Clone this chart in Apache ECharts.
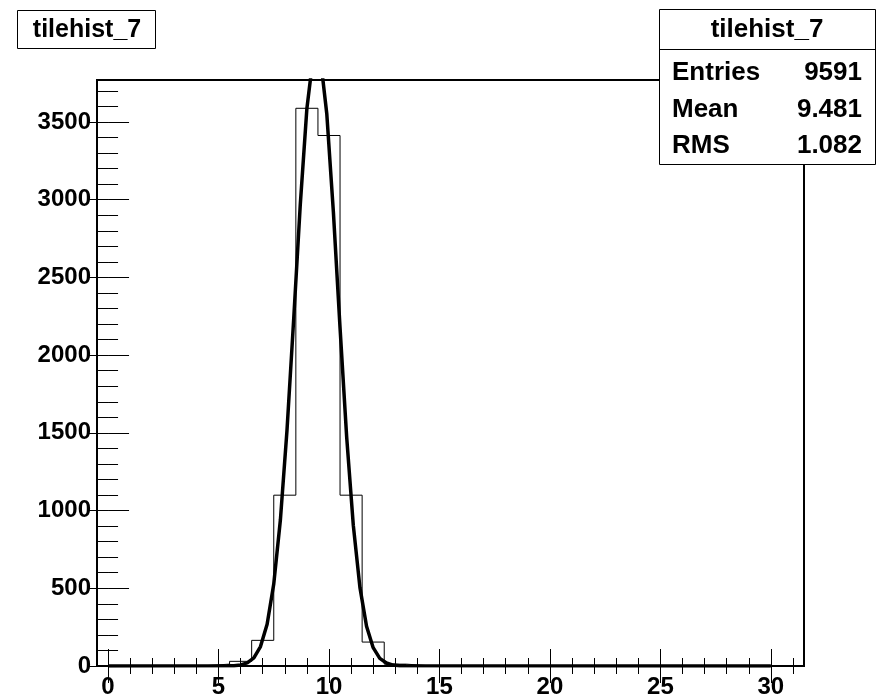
<!DOCTYPE html>
<html>
<head>
<meta charset="utf-8">
<script src="https://cdn.jsdelivr.net/npm/echarts@6/dist/echarts.min.js"></script>
<style>
html,body{margin:0;padding:0;background:#fff;}
#c{width:876px;height:694px;}
</style>
</head>
<body>
<div id="c"></div>
<script>
// ---- data ----
var binCenters = [0,1,2,3,4,5,6,7,8,9,10,11,12,13,14,15,16,17,18,19,20,21,22,23,24,25,26,27,28,29,30,31];
var binCounts  = [0,0,0,0,3,12,30,165,1099,3588,3413,1099,154,12,2,0,0,0,0,0,0,0,0,0,0,0,0,0,0,0,0,0];
var fitX = [0, 5.4, 5.7, 6.0, 6.3, 6.6, 6.9, 7.2, 7.5, 7.8, 8.1, 8.4, 8.7, 9.0, 9.3, 9.6, 9.9, 10.2, 10.5, 10.8, 11.1, 11.4, 11.7, 12.0, 12.3, 12.6, 12.9, 13.2, 13.5, 30];
var fitY = [0, 1, 2, 7, 20, 52, 125, 269, 527, 939, 1518, 2226, 2966, 3587, 3938, 3926, 3553, 2919, 2177, 1474, 906, 506, 256, 118, 49, 19, 6, 2, 1, 0];
var xMajorTicks = [0,5,10,15,20,25,30];
var yMajorTicks = [0,500,1000,1500,2000,2500,3000,3500];
var histTitle = 'tilehist_7';
var statLabels = ['Entries','Mean','RMS'];
var statValues = ['9591','9.481','1.082'];

// ---- derived ----
var binWidth = 1;
var xMin = binCenters[0] - binWidth/2, xMax = binCenters[binCenters.length-1] + binWidth/2;
var yMax = 3770;
var xMinorTicks = [];
for (var i = 0; i <= 31; i++) if (i % 5 !== 0) xMinorTicks.push(i);
var yMinorTicks = [];
for (var v = 0; v <= 3700; v += 100) if (v % 500 !== 0) yMinorTicks.push(v);

var histData = binCenters.map(function(c, k){ return [c - binWidth/2, binCounts[k]]; });
histData.push([xMax, binCounts[binCounts.length-1]]);
var fitData = fitX.map(function(x, k){ return [x, fitY[k]]; });

var FONT = "'Liberation Sans',Arial,Helvetica,sans-serif";
var axisFont = { fontFamily: FONT, fontWeight: 'bold', fontSize: 24, color: '#000', formatter: function(v){ return String(v); } };

function xAx(pos, ticks, len, labels){
  return {
    type:'value', position: pos, min: xMin, max: xMax, gridIndex:0,
    axisLine:{show:false}, splitLine:{show:false},
    axisTick:{show:true, inside:true, length:len, customValues:ticks, lineStyle:{color:'#000', width:1}},
    axisLabel: labels ? Object.assign({show:true, customValues:ticks, margin:9}, axisFont) : {show:false}
  };
}
function yAx(pos, ticks, len, labels){
  return {
    type:'value', position: pos, min: 0, max: yMax, gridIndex:0,
    axisLine:{show:false}, splitLine:{show:false},
    axisTick:{show:true, inside:true, length:len, customValues:ticks, lineStyle:{color:'#000', width:1}},
    axisLabel: labels ? Object.assign({show:true, customValues:ticks, margin:6, padding:[6,0,0,0]}, axisFont) : {show:false}
  };
}

var chart = echarts.init(document.getElementById('c'), null, {renderer:'canvas'});
var boxL = 659, boxR = 875, boxT = 9, boxB = 164;
function txt(x, y, s, size, align){
  return { type:'text', z:101, x:x, y:y, style:{text:s, fontFamily:FONT, fontWeight:'bold', fontSize:size, fill:'#000', align:align, verticalAlign:'middle'} };
}
chart.setOption({
  backgroundColor:'#fff',
  animation:false,
  grid:{left:97, right:72, top:80, bottom:28, containLabel:false, outerBoundsMode:'none',
        show:true, borderColor:'#000', borderWidth:2, backgroundColor:'rgba(0,0,0,0)'},
  xAxis:[ xAx('bottom', xMajorTicks, 17, true), xAx('bottom', xMinorTicks, 8, false),
          xAx('top', xMajorTicks, 17, false), xAx('top', xMinorTicks, 8, false) ],
  yAxis:[ yAx('left', yMajorTicks, 21, true), yAx('left', yMinorTicks, 10, false),
          yAx('right', yMajorTicks, 21, false), yAx('right', yMinorTicks, 10, false) ],
  series:[
    { type:'line', xAxisIndex:0, yAxisIndex:0, data: histData, step:'end', symbol:'none',
      lineStyle:{color:'#000', width:1}, clip:true, z:3 },
    { type:'line', xAxisIndex:0, yAxisIndex:0, data: fitData, symbol:'none', smooth:false,
      lineStyle:{color:'#000', width:3.5}, clip:true, z:4 }
  ],
  graphic:[
    { type:'rect', z:100, shape:{x:17.5, y:10.5, width:138, height:38}, style:{fill:'#fff', stroke:'#000', lineWidth:1} },
    txt(87, 30, histTitle, 25, 'center'),
    { type:'rect', z:100, shape:{x:boxL+0.5, y:boxT+0.5, width:boxR-boxL, height:boxB-boxT}, style:{fill:'#fff', stroke:'#000', lineWidth:1} },
    { type:'line', z:101, shape:{x1:boxL, y1:49.5, x2:boxR, y2:49.5}, style:{stroke:'#000', lineWidth:1} },
    txt((boxL+boxR)/2, 30, histTitle, 26, 'center'),
    txt(672, 73, statLabels[0], 26, 'left'),
    txt(672, 109.5, statLabels[1], 26, 'left'),
    txt(672, 146, statLabels[2], 26, 'left'),
    txt(862, 73, statValues[0], 26, 'right'),
    txt(862, 109.5, statValues[1], 26, 'right'),
    txt(862, 146, statValues[2], 26, 'right')
  ]
});
</script>
</body>
</html>
